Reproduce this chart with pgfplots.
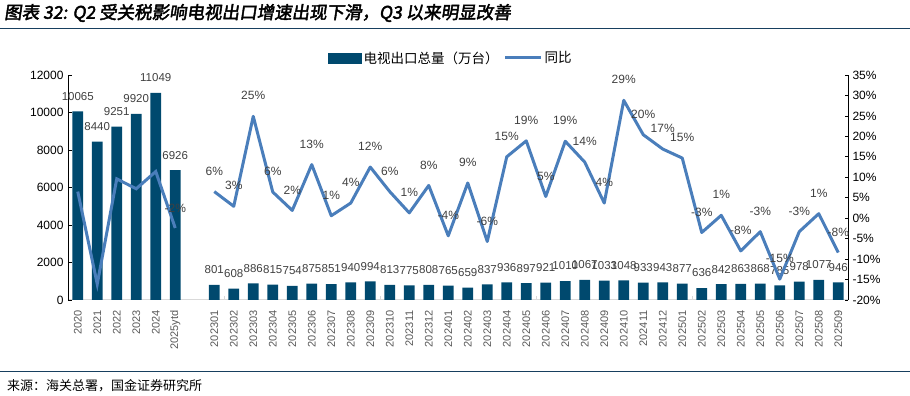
\documentclass[border=0pt]{standalone}
\usepackage{fontspec}
\setmainfont{Liberation Sans}
\newfontfamily\cjk{Noto Sans CJK SC}
\newfontfamily\cjkt[FakeBold=2.5,FakeSlant=0.15]{Noto Sans CJK SC}
\usepackage{pgfplots}
\pgfplotsset{compat=1.18}
\definecolor{barc}{RGB}{0,73,110}
\definecolor{linec}{RGB}{74,126,187}
\definecolor{lblc}{RGB}{64,64,64}
\definecolor{rulec}{RGB}{23,63,95}
\definecolor{axgray}{RGB}{217,217,217}
\definecolor{tickgray}{RGB}{89,89,89}
\begin{document}
\begin{tikzpicture}
\path[use as bounding box] (0bp,0bp) rectangle (910bp,396bp);
\node[anchor=west, inner sep=0pt, font=\cjkt\fontsize{17.5bp}{20bp}\selectfont] at (4bp,383bp) {图表 32: Q2 受关税影响电视出口增速出现下滑，Q3 以来明显改善};
\draw[rulec, line width=1.3bp] (0bp,367.5bp) -- (910bp,367.5bp);
\draw[rulec, line width=1bp] (0bp,24bp) -- (910bp,24bp);
\node[anchor=west, inner sep=0pt, font=\cjk\fontsize{13bp}{15bp}\selectfont] at (7bp,10.5bp) {来源：海关总署，国金证券研究所};

\begin{axis}[
  at={(68bp,96bp)}, anchor=south west, scale only axis,
  width=780bp, height=225bp,
  xmin=-0.5, xmax=39.5, ymin=0, ymax=12000,
  axis x line*=bottom, axis y line*=left,
  x axis line style={draw=axgray, line width=1bp, -},
  y axis line style={draw=black, line width=0.9bp, -},
  /pgf/number format/assume math mode=true,
  scaled y ticks=false,
  ytick={0,2000,4000,6000,8000,10000,12000},
  yticklabel={\pgfmathprintnumber[fixed,precision=0,1000 sep={}]{\tick}},
  yticklabel style={font=\fontsize{12bp}{14bp}\selectfont, text=black},
  yticklabel shift=1bp,
  ytick style={draw=black, line width=0.8bp},
  major tick length=3.5bp, tick align=inside,
  xtick={0,1,2,3,4,5,7,8,9,10,11,12,13,14,15,16,17,18,19,20,21,22,23,24,25,26,27,28,29,30,31,32,33,34,35,36,37,38,39},
  xticklabels={2020,2021,2022,2023,2024,2025ytd,202301,202302,202303,202304,202305,202306,202307,202308,202309,202310,202311,202312,202401,202402,202403,202404,202405,202406,202407,202408,202409,202410,202411,202412,202501,202502,202503,202504,202505,202506,202507,202508,202509},
  xtick style={draw=none},
  xticklabel style={rotate=90, anchor=east, font=\fontsize{11bp}{13bp}\selectfont, text=tickgray},
  xticklabel shift=7bp,
  extra x ticks={7.5,15.5,23.5,31.5},
  extra x tick labels={},
  extra x tick style={xtick style={draw=axgray, line width=1bp}, major tick length=4bp},
  clip=false,
]
\addplot[ybar, bar width=0.55, fill=barc, draw=none,
  nodes near coords, point meta=explicit symbolic,
  every node near coord/.append style={font=\fontsize{11.5bp}{13bp}\selectfont, text=lblc, anchor=south, yshift=7.5bp}]
coordinates {
(0,10065)[10065] (1,8440)[8440] (2,9251)[9251] (3,9920)[9920] (4,11049)[11049] (5,6926)[6926]
(7,801)[801] (8,608)[608] (9,886)[886] (10,815)[815] (11,754)[754] (12,875)[875]
(13,851)[851] (14,940)[940] (15,994)[994] (16,813)[813] (17,775)[775] (18,808)[808]
(19,765)[765] (20,659)[659] (21,837)[837] (22,936)[936] (23,897)[897] (24,921)[921]
(25,1010)[1010] (26,1067)[1067] (27,1033)[1033] (28,1048)[1048] (29,933)[933] (30,943)[943]
(31,877)[877] (32,636)[636] (33,842)[842] (34,863)[863] (35,868)[868] (36,785)[785]
(37,978)[978] (38,1077)[1077] (39,946)[946]
};
\end{axis}

\begin{axis}[
  at={(68bp,96bp)}, anchor=south west, scale only axis,
  width=780bp, height=225bp,
  xmin=-0.5, xmax=39.5, ymin=-20, ymax=35,
  axis x line=none, axis y line*=right,
  y axis line style={draw=black, line width=0.9bp, -},
  /pgf/number format/assume math mode=true,
  ytick={-20,-15,-10,-5,0,5,10,15,20,25,30,35},
  yticklabel={\pgfmathprintnumber{\tick}\%},
  yticklabel style={font=\fontsize{12bp}{14bp}\selectfont, text=black},
  yticklabel shift=1bp,
  ytick style={draw=black, line width=0.8bp},
  major tick length=3.5bp, tick align=inside,
  clip=false,
  legend style={at={(0.491,1.0756)}, anchor=center, draw=none, fill=none,
    font=\cjk\fontsize{13.5bp}{15bp}\selectfont,
    /tikz/every even column/.append style={column sep=3bp}},
  legend columns=2, legend cell align=left,
]
\addlegendimage{legend image code/.code={\fill[barc] (0bp,-5bp) rectangle (33bp,5bp);}}
\addlegendentry{电视出口总量（万台）}
\addplot[linec, line width=3bp, forget plot] coordinates {
(0,6.5) (1,-16.1) (2,9.6) (3,7.2) (4,11.4) (5,-2.4)
};
\addplot[draw=none, forget plot, nodes near coords, point meta=explicit symbolic,
  every node near coord/.append style={font=\fontsize{12bp}{14bp}\selectfont, text=lblc, anchor=south, yshift=11.5bp}]
coordinates {(5,-2.4)[-2\%]};
\addplot[linec, line width=3bp, line join=round,
  legend image code/.code={\draw[linec, line width=3bp] (0bp,0bp) -- (36bp,0bp);},
  nodes near coords, point meta=explicit symbolic,
  every node near coord/.append style={font=\fontsize{12bp}{14bp}\selectfont, text=lblc, anchor=south, yshift=11.5bp}]
coordinates {
(7,6.5)[6\%] (8,2.9)[3\%] (9,24.9)[25\%] (10,6.4)[6\%] (11,1.9)[2\%] (12,13.1)[13\%]
(13,0.6)[1\%] (14,3.7)[4\%] (15,12.5)[12\%] (16,6.5)[6\%] (17,1.3)[1\%] (18,8.0)[8\%]
(19,-4.3)[-4\%] (20,8.6)[9\%] (21,-5.7)[-6\%] (22,15.0)[15\%] (23,18.9)[19\%] (24,5.3)[5\%]
(25,18.8)[19\%] (26,13.7)[14\%] (27,3.7)[4\%] (28,28.8)[29\%] (29,20.4)[20\%] (30,16.9)[17\%]
(31,14.7)[15\%] (32,-3.5)[-3\%] (33,0.7)[1\%] (34,-8.0)[-8\%] (35,-3.3)[-3\%] (36,-14.9)[-15\%]
(37,-3.3)[-3\%] (38,1.1)[1\%] (39,-8.4)[-8\%]
};
\addlegendentry{同比}
\end{axis}
\end{tikzpicture}
\end{document}
